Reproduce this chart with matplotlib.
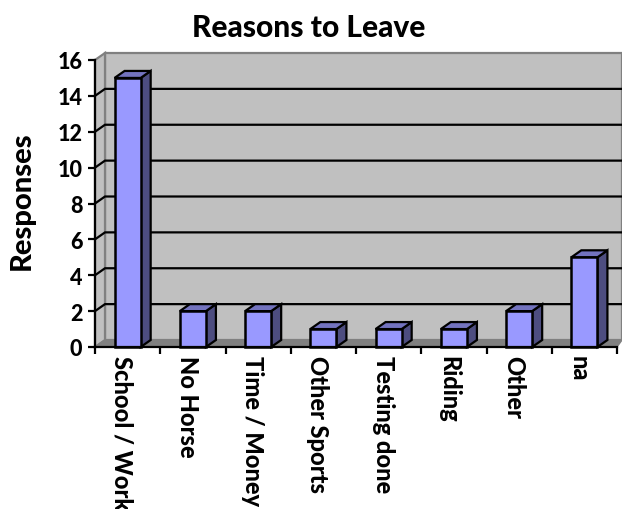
import matplotlib
matplotlib.use('Agg')
import matplotlib.pyplot as plt
from matplotlib.patches import Polygon

categories = ['School / Work', 'No Horse', 'Time / Money', 'Other Sports',
              'Testing done', 'Riding', 'Other', 'na']
responses = [15, 2, 2, 1, 1, 1, 2, 5]
y_ticks = [0, 2, 4, 6, 8, 10, 12, 14, 16]

W, H = 622, 510
plt.rcParams['font.family'] = ['Lato', 'DejaVu Sans']

fig = plt.figure(figsize=(W / 100, H / 100), dpi=100, facecolor='white')
# front plane of the fake 3d box, in pixels
left, right, top, bottom = 95, 617, 61, 348
ax = fig.add_axes([left / W, 1 - bottom / H, (right - left) / W, (bottom - top) / H])
ax.set_xlim(0, len(categories))
ax.set_ylim(0, 16)
ax.patch.set_visible(False)

# depth of the box in data units
dx = 10 / ((right - left) / len(categories))
dy = 7 / ((bottom - top) / 16)
ymax = y_ticks[-1]
xmax = len(categories)


def poly(points, face, edge='black', lw=1.6, z=2):
    ax.add_patch(Polygon(points, closed=True, facecolor=face, edgecolor=edge,
                         linewidth=lw, zorder=z, clip_on=False, joinstyle='miter'))


# walls and floor
poly([(dx, dy), (xmax + dx * 0.5, dy), (xmax + dx * 0.5, ymax + dy), (dx, ymax + dy)],
     '#c0c0c0', edge='#808080', lw=1.6, z=1)
poly([(0, 0), (dx, dy), (dx, ymax + dy), (0, ymax)], '#c0c0c0', edge='#808080', lw=1.6, z=1)
poly([(0, 0), (dx, dy), (xmax + dx * 0.5, dy), (xmax, 0)], '#808080', edge='#808080', lw=1, z=1)

# gridlines on back wall, with the diagonal part on the side wall
for t in y_ticks[1:-1]:
    ax.plot([0, dx, xmax + dx * 0.5], [t, t + dy, t + dy], color='black', lw=1.6, zorder=1.5,
            clip_on=False, solid_joinstyle='miter')

# bars
bar_w = 0.4
xs = [i + 0.5 for i in range(len(categories))]
ax.bar(xs, responses, width=bar_w, color='#9999ff', edgecolor='black', linewidth=1.8,
       zorder=4, clip_on=False)
for x, v in zip(xs, responses):
    x0, x1 = x - bar_w / 2, x + bar_w / 2
    poly([(x1, 0), (x1 + dx, dy), (x1 + dx, v + dy), (x1, v)], '#4d4d80', lw=1.6, z=3)
    poly([(x0, v), (x0 + dx, v + dy), (x1 + dx, v + dy), (x1, v)], '#7373bf', lw=1.6, z=3)

for s in ['top', 'right']:
    ax.spines[s].set_visible(False)
for s in ['left', 'bottom']:
    ax.spines[s].set_linewidth(1.6)
    ax.spines[s].set_zorder(5)

ax.set_yticks(y_ticks)
ax.set_xticks(range(len(categories) + 1))
ax.set_xticklabels([])
ax.tick_params(axis='both', length=5, width=1.6, color='black')
ax.tick_params(axis='y', labelsize=15.5, pad=4)
for lab in ax.get_yticklabels():
    lab.set_fontweight('black')

# category labels hang off-centre between the ticks, rotated downward
for x, name in zip(xs, categories):
    ax.annotate(name, xy=(x, 0), xycoords='data', xytext=(-4, -6), textcoords='offset points',
                rotation=-90, ha='center', va='top', fontsize=17, fontweight='black',
                annotation_clip=False)

fig.text(309 / W, 1 - 28 / H, 'Reasons to Leave', ha='center', va='center',
         fontsize=21.5, fontweight='black')
fig.text(22 / W, 1 - 201 / H, 'Responses', ha='center', va='center', rotation=90,
         fontsize=21, fontweight='black')

fig.savefig('out.png', dpi=100)
